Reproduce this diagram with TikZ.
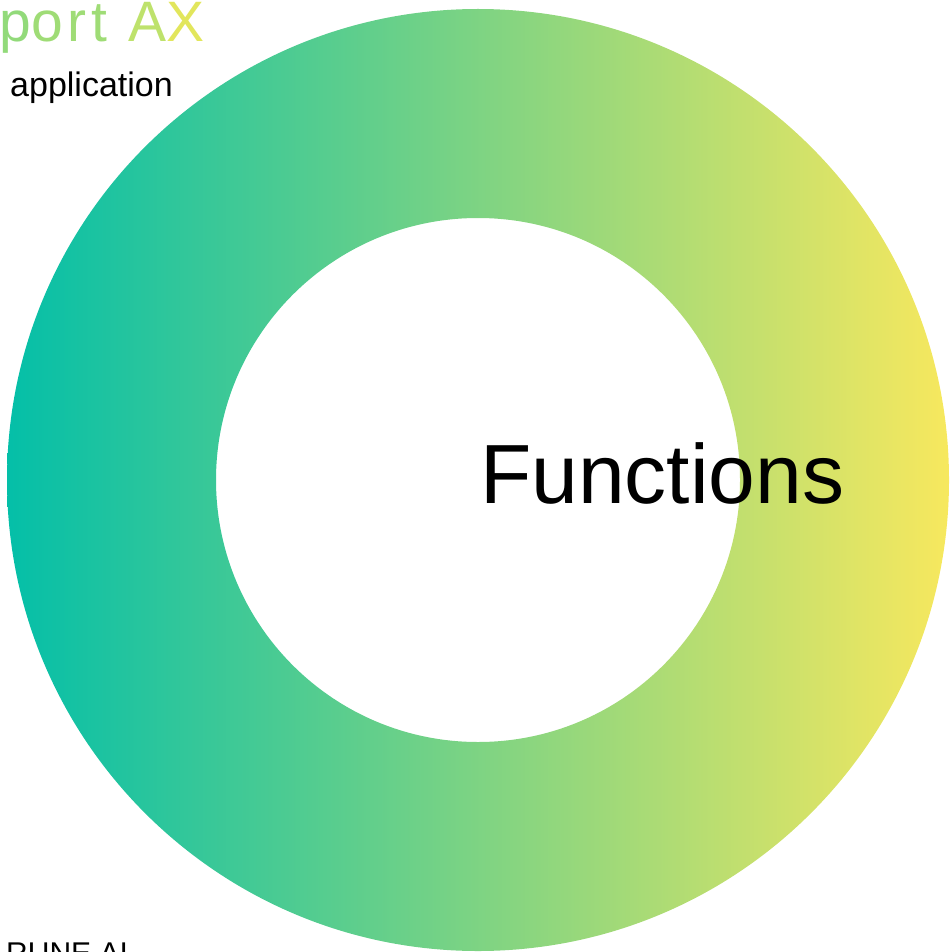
\documentclass[tikz,border=0pt]{standalone}
\usepackage{fontspec}
\setmainfont{Liberation Sans}
\newfontfamily\titlefont[LetterSpace=9]{Liberation Sans}
\usepackage{tikz}
\definecolor{ringteal}{RGB}{4,191,168}
\definecolor{ringyellow}{RGB}{247,232,94}
\definecolor{titlegreen}{RGB}{146,218,122}
\definecolor{titlelime}{RGB}{190,226,108}
\definecolor{titleyellow}{RGB}{226,230,92}
\tikzset{label text/.style={inner sep=0pt, text=black}}

\begin{document}
\begin{tikzpicture}[x=1pt, y=-1pt]
    \useasboundingbox (0,0) rectangle (950,952);
% Ring
    \coordinate (c) at (478,480);
    \shade[left color=ringteal, right color=ringyellow, even odd rule]
        (c) circle (471) (c) circle (262);
% Texts
    \node[inner sep=0pt, anchor=base east, font=\titlefont\fontsize{57}{57}\selectfont] (title) at (205,42)
        {\textcolor{titlegreen}{Supp}\textcolor{titlegreen!70!titlelime}{ort}
         \textcolor{titlelime}{A}\textcolor{titleyellow}{X}};
    \node[label text, anchor=base west, font=\fontsize{34}{34}\selectfont] (app) at (10,97) {application};
    \node[label text, anchor=base west, font=\fontsize{84}{84}\selectfont] (functions) at (480,503) {Functions};
    \node[label text, anchor=base west, font=\fontsize{30}{30}\selectfont] (brand) at (6,963) {RUNE AI};
\end{tikzpicture}
\end{document}
